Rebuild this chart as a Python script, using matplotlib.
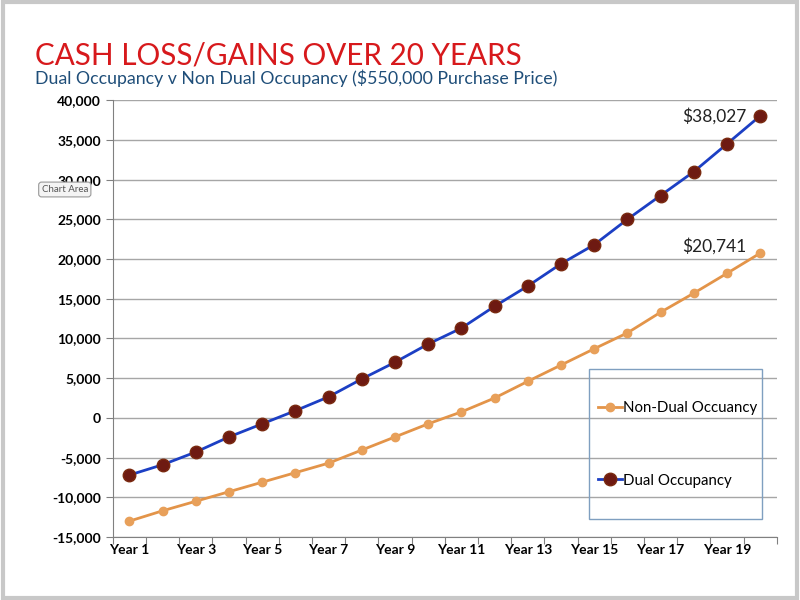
import matplotlib.pyplot as plt
from matplotlib.ticker import FuncFormatter, MultipleLocator
from matplotlib.patches import Rectangle

# data
years = [f"Year {i}" for i in range(1, 21)]
dual = [-7200, -5900, -4300, -2400, -750, 900, 2650, 4900, 7000, 9300,
        11300, 14050, 16600, 19400, 21800, 25000, 28000, 31000, 34500, 38027]
non_dual = [-13000, -11700, -10500, -9300, -8100, -6900, -5700, -4050, -2400, -750,
            750, 2500, 4600, 6650, 8700, 10700, 13300, 15700, 18200, 20741]

plt.rcParams['font.family'] = ['Lato', 'DejaVu Sans']

fig = plt.figure(figsize=(8, 6), dpi=100)
ax = fig.add_axes([0.141, 0.105, 0.83, 0.728])

x = range(len(years))
ax.plot(x, non_dual, color='#e39449', lw=2, marker='o', ms=6,
        mfc='#e8a05a', mec='#e8a05a', label='Non-Dual Occuancy', zorder=3)
ax.plot(x, dual, color='#1c3fc4', lw=2, marker='o', ms=9,
        mfc='#6e1a12', mec='#7a2a10', label='Dual Occupancy', zorder=4)

ax.set_xlim(-0.5, len(years) - 0.5)
ax.set_ylim(-15000, 40000)
ax.yaxis.set_major_locator(MultipleLocator(5000))
ax.yaxis.set_major_formatter(FuncFormatter(lambda v, p: f"{int(v):,}"))
ax.grid(axis='y', color='#a6a6a6', lw=1)
ax.set_axisbelow(True)

# category boundary ticks, labels on odd years
ax.set_xticks([i - 0.5 for i in range(len(years) + 1)], minor=False)
ax.set_xticklabels([])
ax.set_xticks(list(x)[::2], minor=True)
ax.set_xticklabels(years[::2], minor=True, fontweight='bold', fontsize=10)
ax.tick_params(axis='x', which='major', length=5, color='#808080')
ax.tick_params(axis='x', which='minor', length=0, pad=5)
ax.tick_params(axis='y', length=5, color='#808080', labelsize=10)
for lab in ax.get_yticklabels():
    lab.set_fontweight('bold')

for s in ['top', 'right']:
    ax.spines[s].set_visible(False)
for s in ['left', 'bottom']:
    ax.spines[s].set_color('#808080')

ax.annotate(f"${dual[-1]:,}", (x[-1], dual[-1]), xytext=(-10, 0),
            textcoords='offset points', ha='right', va='center', fontsize=12.5, color='#222222')
ax.annotate(f"${non_dual[-1]:,}", (x[-1], non_dual[-1]), xytext=(-10, 5),
            textcoords='offset points', ha='right', va='center', fontsize=12.5, color='#222222')

leg = ax.legend(loc='center left', bbox_to_anchor=(0.71, 0.212), fontsize=10.8,
                labelspacing=3.9, frameon=False, handlelength=1.6, handletextpad=0.1)
ax.add_patch(Rectangle((0.717, 0.041), 0.26, 0.343, transform=ax.transAxes,
                       fill=False, ec='#7f9fc0', lw=1, zorder=5))
leg.set_zorder(6)

fig.text(0.044, 0.892, "CASH LOSS/GAINS OVER 20 YEARS", color='#d7191c', fontsize=21.3)
fig.text(0.044, 0.86, "Dual Occupancy v Non Dual Occupancy ($550,000 Purchase Price)",
         color='#1f4e79', fontsize=12.8)
fig.text(0.052, 0.68, "Chart Area", fontsize=7, color='#555555',
         bbox=dict(boxstyle='round,pad=0.3', fc='#f4f4f4', ec='#999999', lw=0.8))

fig.patches.append(Rectangle((0.004, 0.004), 0.992, 0.992, transform=fig.transFigure,
                             fill=False, ec='#c8c8c8', lw=3))

fig.savefig('out.png', dpi=100)
